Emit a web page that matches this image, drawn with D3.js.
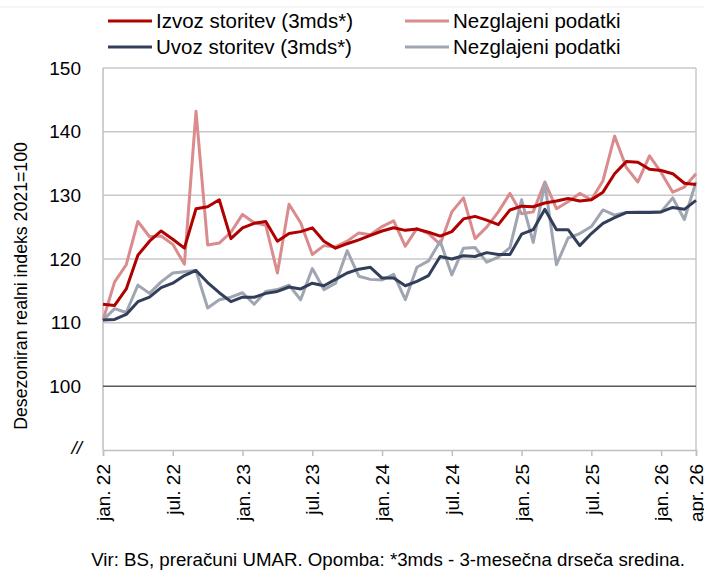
<!DOCTYPE html>
<html>
<head>
<meta charset="utf-8">
<script src="https://cdn.jsdelivr.net/npm/d3@7"></script>
<style>
  body { margin: 0; background: #fff; }
  svg { display: block; font-family: "Liberation Sans", Arial, sans-serif; }
</style>
</head>
<body>
<svg id="chart" width="704" height="574"></svg>
<script>
// mesečni podatki jan. 22 - apr. 26 (52 mesecev)
var izvoz3mds = [112.9, 112.7, 115.3, 120.6, 122.8, 124.4, 123.1, 121.7, 127.9, 128.2, 129.3, 123.2,
                 124.9, 125.6, 125.9, 122.8, 124.0, 124.3, 124.9, 122.8, 121.7, 122.4, 123.0, 123.7,
                 124.4, 124.9, 124.5, 124.7, 124.2, 123.6, 124.3, 126.3, 126.7, 126.1, 125.4, 127.7,
                 128.3, 128.2, 128.8, 129.1, 129.5, 129.1, 129.3, 130.5, 133.4, 135.3, 135.2, 134.1,
                 133.9, 133.4, 131.9, 131.7]
var izvozRaw = [110.4, 116.4, 119.1, 125.9, 123.5, 123.6, 122.3, 119.2, 143.2, 122.2, 122.5, 124.2,
                127.0, 125.7, 125.3, 117.8, 128.6, 125.7, 120.7, 122.1, 121.9, 122.8, 124.1, 123.8,
                125.1, 126.0, 122.0, 124.8, 124.0, 122.3, 127.4, 129.6, 123.2, 125.0, 127.4, 130.3,
                127.1, 127.4, 132.1, 127.9, 129.0, 130.3, 129.3, 132.3, 139.3, 134.4, 132.1, 136.2,
                133.6, 130.5, 131.3, 133.4]
var uvoz3mds = [110.4, 110.5, 111.3, 113.3, 114.0, 115.5, 116.2, 117.4, 118.2, 116.3, 114.7, 113.3,
                114.0, 114.0, 114.6, 114.9, 115.6, 115.3, 116.2, 115.8, 116.8, 117.8, 118.4, 118.7,
                117.0, 117.0, 115.8, 116.5, 117.4, 120.4, 120.0, 120.5, 120.4, 121.0, 120.7, 120.7,
                123.9, 124.6, 127.8, 124.6, 124.6, 122.1, 124.0, 125.6, 126.5, 127.3, 127.3, 127.3,
                127.4, 128.1, 127.8, 129.2]
var uvozRaw = [110.4, 112.2, 111.6, 115.9, 114.6, 116.4, 117.8, 118.0, 118.2, 112.3, 113.6, 114.0,
               114.7, 112.9, 114.9, 115.2, 115.9, 113.6, 118.5, 115.2, 116.2, 121.3, 117.3, 116.8,
               116.7, 117.6, 113.6, 118.7, 119.7, 122.8, 117.5, 121.7, 121.8, 119.5, 120.3, 121.8,
               129.3, 122.6, 131.9, 119.1, 123.3, 124.0, 125.1, 127.7, 126.9, 127.3, 127.4, 127.4,
               127.4, 129.6, 126.2, 132.1]

var tickIdx = [0, 6, 12, 18, 24, 30, 36, 42, 48, 51]
var tickLabels = ["jan. 22", "jul. 22", "jan. 23", "jul. 23", "jan. 24", "jul. 24",
                  "jan. 25", "jul. 25", "jan. 26", "apr. 26"]
var yTicks = [100, 110, 120, 130, 140, 150]

var legendNames = ["Izvoz storitev (3mds*)", "Nezglajeni podatki", "Uvoz storitev (3mds*)", "Nezglajeni podatki"]

var svg = d3.select("#chart")
var x = d3.scaleLinear().domain([0, 51]).range([103, 696])
var y = d3.scaleLinear().domain([90, 150]).range([450, 68])

// tanka črta na vrhu
svg.append("line")
   .attr("x1", 0).attr("x2", 704).attr("y1", 7).attr("y2", 7)
   .attr("stroke", "#ebebeb").attr("stroke-width", 1)

// mreža
svg.append("g").selectAll("line")
   .data(yTicks.filter(function (d) { return d !== 100 }))
   .join("line")
   .attr("x1", x(0)).attr("x2", x(51))
   .attr("y1", function (d) { return y(d) }).attr("y2", function (d) { return y(d) })
   .attr("stroke", "#c8c8c8").attr("stroke-width", 1.5)

// okvir levo in desno
svg.append("line")
   .attr("x1", x(0)).attr("x2", x(0)).attr("y1", y(150)).attr("y2", y(90))
   .attr("stroke", "#bfbfbf").attr("stroke-width", 1.5)
svg.append("line")
   .attr("x1", x(51)).attr("x2", x(51)).attr("y1", y(150)).attr("y2", y(90))
   .attr("stroke", "#c8c8c8").attr("stroke-width", 1.5)

// os x
var xAxis = d3.axisBottom(x)
   .tickValues(tickIdx)
   .tickFormat(function (d, i) { return tickLabels[i] })
   .tickSize(6)
   .tickPadding(6)
var gx = svg.append("g")
   .attr("transform", "translate(0," + y(90) + ")")
   .call(xAxis)
gx.select(".domain").attr("stroke", "#bfbfbf").attr("stroke-width", 1.5)
gx.selectAll(".tick line").attr("stroke", "#bfbfbf").attr("stroke-width", 1.5)
gx.selectAll(".tick text")
   .attr("font-size", 19)
   .attr("fill", "#000")
   .attr("transform", "rotate(-90)")
   .attr("text-anchor", "end")
   .attr("x", -14)
   .attr("y", 0)
   .attr("dy", "0.35em")

// os y (brez črte)
var yAxis = d3.axisLeft(y)
   .tickValues(yTicks)
   .tickSize(0)
   .tickPadding(22)
var gy = svg.append("g")
   .attr("transform", "translate(" + x(0) + ",0)")
   .call(yAxis)
gy.select(".domain").remove()
gy.selectAll(".tick text").attr("font-size", 19).attr("fill", "#000")

svg.append("text")
   .attr("x", x(0) - 21).attr("y", y(90))
   .attr("dy", "0.2em")
   .attr("text-anchor", "end")
   .attr("font-size", 19)
   .attr("font-style", "italic")
   .text("//")

// črta pri 100
svg.append("line")
   .attr("x1", x(0)).attr("x2", x(51))
   .attr("y1", y(100)).attr("y2", y(100))
   .attr("stroke", "#595959").attr("stroke-width", 1.5)

// naslov osi y
svg.append("text")
   .attr("transform", "translate(21,286) rotate(-90)")
   .attr("text-anchor", "middle")
   .attr("dy", "0.35em")
   .attr("font-size", 17.7)
   .text("Desezoniran realni indeks 2021=100")

// črte
var line = d3.line()
   .x(function (d, i) { return x(i) })
   .y(function (d) { return y(d) })

var series = [
  { data: izvozRaw, color: "#d98b8d", width: 3 },
  { data: uvozRaw, color: "#a0a5b2", width: 3 },
  { data: uvoz3mds, color: "#323e5a", width: 3 },
  { data: izvoz3mds, color: "#b00000", width: 3 }
]
svg.append("g").selectAll("path")
   .data(series)
   .join("path")
   .attr("d", function (d) { return line(d.data) })
   .attr("fill", "none")
   .attr("stroke", function (d) { return d.color })
   .attr("stroke-width", function (d) { return d.width })
   .attr("stroke-linejoin", "round")

// legenda
var legendItems = [
  { name: legendNames[0], color: "#b00000", lx: 108, ly: 21 },
  { name: legendNames[1], color: "#d98b8d", lx: 405, ly: 21 },
  { name: legendNames[2], color: "#323e5a", lx: 108, ly: 47 },
  { name: legendNames[3], color: "#a0a5b2", lx: 405, ly: 47 }
]
var lg = svg.append("g").selectAll("g")
   .data(legendItems)
   .join("g")
   .attr("transform", function (d) { return "translate(" + d.lx + "," + d.ly + ")" })
lg.append("line")
   .attr("x1", 0).attr("x2", 44).attr("y1", 0).attr("y2", 0)
   .attr("stroke", function (d) { return d.color })
   .attr("stroke-width", 3)
lg.append("text")
   .attr("x", 48).attr("y", 0)
   .attr("dy", "0.35em")
   .attr("font-size", 20.5)
   .text(function (d) { return d.name })

// vir
svg.append("text")
   .attr("x", 388).attr("y", 566)
   .attr("text-anchor", "middle")
   .attr("font-size", 18.7)
   .text("Vir: BS, preračuni UMAR. Opomba: *3mds - 3-mesečna drseča sredina.")
</script>
</body>
</html>
